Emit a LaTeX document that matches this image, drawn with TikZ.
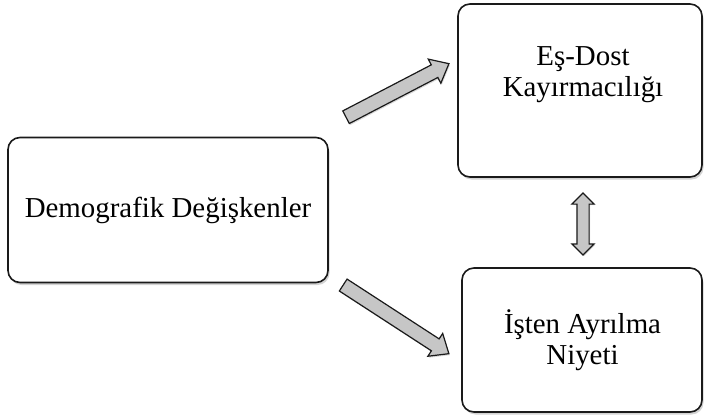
\documentclass[tikz,border=0pt]{standalone}
\usepackage{fontspec}
\setmainfont{Liberation Serif}
\usetikzlibrary{positioning, shapes.arrows, shadows}
\definecolor{EdgeGray}{HTML}{1A1A1A}
\definecolor{ArrFill}{HTML}{C6C6C6}

\begin{document}
\begin{tikzpicture}[x=1bp, y=1bp,
  vbox/.style={draw=EdgeGray, line width=1.6bp, rounded corners=12bp,
    fill=white, inner sep=0pt, align=center,
    font=\fontsize{29}{31}\selectfont,
    drop shadow={shadow xshift=1.5bp, shadow yshift=-2.5bp, opacity=0.35}},
  txt/.style={font=\fontsize{29}{31}\selectfont, align=center, inner sep=0pt},
  blk/.style={single arrow, draw=EdgeGray, line width=1.2bp, fill=ArrFill,
    inner xsep=0pt, inner ysep=6.5bp, single arrow head extend=6.5bp,
    single arrow tip angle=80, sloped,
    drop shadow={shadow xshift=1bp, shadow yshift=-1.5bp, opacity=0.3}},
  dblk/.style={double arrow, draw=EdgeGray, line width=1.2bp, fill=ArrFill,
    inner xsep=0pt, inner ysep=5.5bp, double arrow head extend=5bp,
    double arrow tip angle=90, sloped,
    drop shadow={shadow xshift=1bp, shadow yshift=-1bp, opacity=0.3}},
]
  \useasboundingbox (0,0) rectangle (704,-417);

  \node[vbox, minimum width=320bp, minimum height=145bp] (demo) at (168,-210)
    {Demografik Değişkenler};
  \node[vbox, minimum width=244bp, minimum height=173bp] (esdost) at (580,-90.5) {};
  \node[vbox, minimum width=240bp, minimum height=144bp] (isten) at (582,-340) {};

  \node[txt] (esdostTxt) at (583,-75) {Eş-Dost\\Kayırmacılığı};
  \node[txt] (istenTxt) at (582.5,-340) {İşten Ayrılma\\Niyeti};

  % arrow ends
  \coordinate (up0) at (345.5,-117.5);
  \coordinate (up1) at (448.3,-64);
  \coordinate (dn0) at (342.7,-284.7);
  \coordinate (dn1) at (448.3,-353.3);
  \coordinate (mid0) at (583,-193);
  \coordinate (mid1) at (583,-255);

  \path (up0) -- node[blk, pos=0, anchor=tail, minimum height=116bp] (upArr) {} (up1);
  \path (dn0) -- node[blk, pos=0, anchor=tail, minimum height=126bp] (dnArr) {} (dn1);
  \path (mid0) -- node[dblk, midway, minimum height=62bp] (midArr) {} (mid1);
\end{tikzpicture}
\end{document}
